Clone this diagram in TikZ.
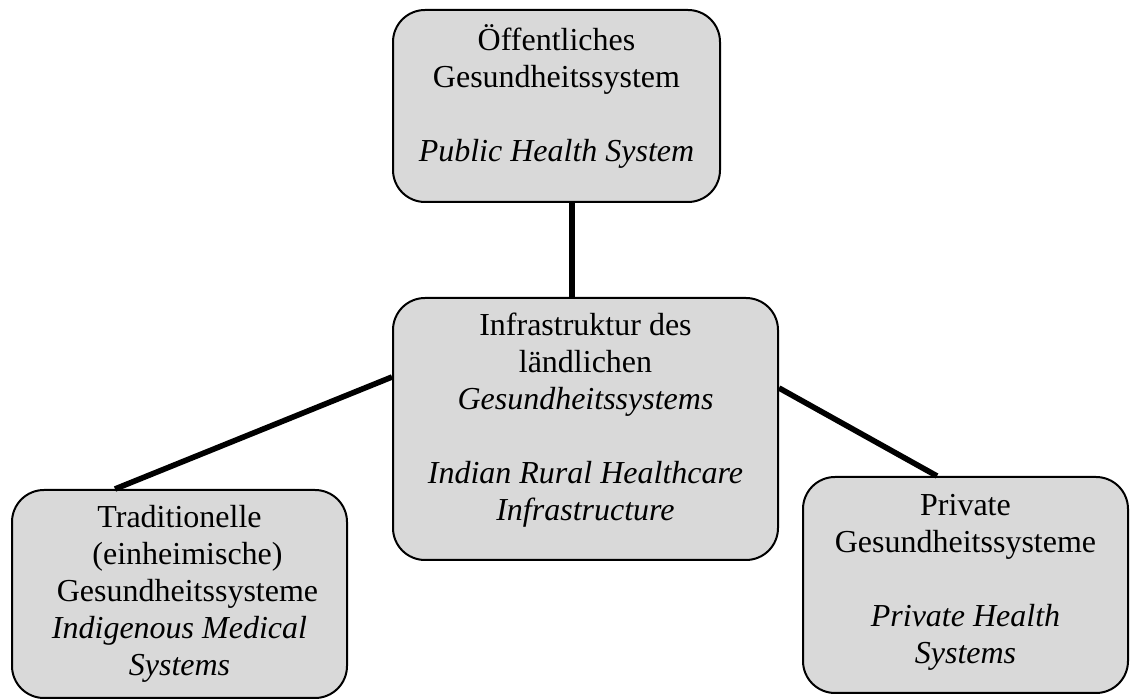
\documentclass[tikz,border=0pt]{standalone}
\usepackage{fontspec}
\setmainfont{Liberation Serif}
\usepackage{tikz}
\usetikzlibrary{positioning}

\definecolor{boxgray}{RGB}{217,217,217}

\begin{document}
\begin{tikzpicture}[
    x=0.5pt, y=-0.5pt,
    box/.style={
        rectangle,
        rounded corners=16pt,
        draw=black,
        line width=1pt,
        fill=boxgray,
        inner sep=0pt
    },
    txt/.style={
        align=center,
        inner sep=0pt,
        font=\fontsize{16}{18.5}\selectfont
    },
    link/.style={
        line width=2.8pt,
        draw=black
    }
]
\useasboundingbox (0,0) rectangle (1130,699);

\node[box, minimum width=163.5pt, minimum height=96pt] (public) at (556.5,106) {};
\node[box, minimum width=192.5pt, minimum height=131pt] (rural) at (585.5,429) {};
\node[box, minimum width=167.5pt, minimum height=104pt] (indig) at (179.5,594) {};
\node[box, minimum width=162.5pt, minimum height=108pt] (private) at (965.5,585) {};

\node[txt, yshift=5pt] (publicText) at (public) {Öffentliches\\Gesundheitssystem\\[18.5pt]\textit{Public Health System}};
\node[txt, yshift=4.5pt] (ruralText) at (rural) {Infrastruktur des\\ländlichen\\\textit{Gesundheitssystems}\\[18.5pt]\textit{Indian Rural Healthcare}\\\textit{Infrastructure}};
\node[txt] (indigText) at (indig) {Traditionelle\\\hspace*{0.5em}(einheimische)\\\hspace*{0.5em}Gesundheitssysteme\\\textit{Indigenous Medical}\\\textit{Systems}};
\node[txt, yshift=1.5pt] (privateText) at (private) {Private\\Gesundheitssysteme\\[18.5pt]\textit{Private Health}\\\textit{Systems}};

\draw[link] ([xshift=7.75pt]public.south) -- ([xshift=-6.75pt]rural.north);
\draw[link] ([yshift=26pt]rural.west) -- ([xshift=-32.25pt]indig.north);
\draw[link] ([yshift=20.5pt]rural.east) -- ([xshift=-14.25pt]private.north);

\end{tikzpicture}
\end{document}
